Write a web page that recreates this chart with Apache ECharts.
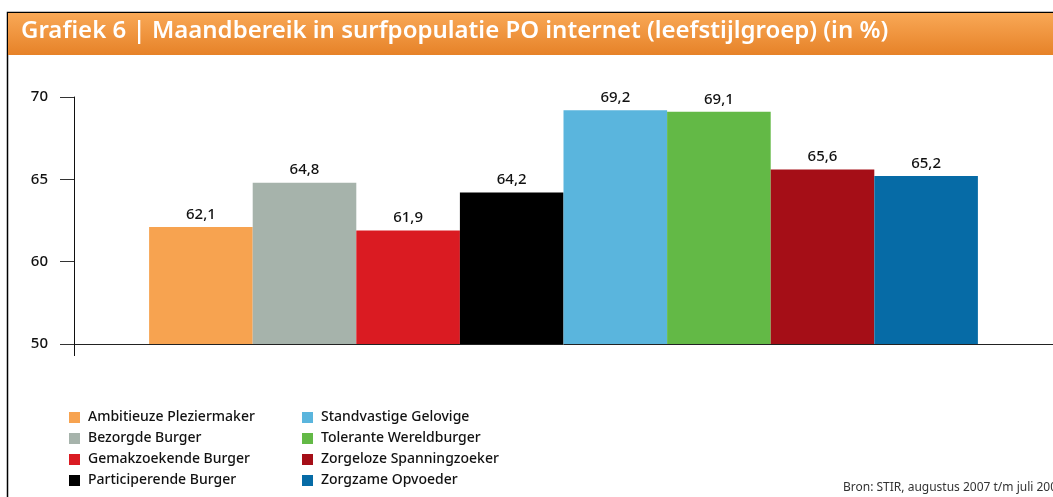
<!DOCTYPE html>
<html lang="nl">
<head>
    <meta charset="UTF-8">
    <title>Grafiek 6</title>
    <script src="https://cdn.jsdelivr.net/npm/echarts@6/dist/echarts.min.js"></script>
    <style>
        html, body { margin: 0; padding: 0; background: #fff; }
        #chart { width: 1053px; height: 497px; }
    </style>
</head>
<body>
    <div id="chart"></div>
    <script>
        // data
        var groups = ['Ambitieuze Pleziermaker', 'Bezorgde Burger', 'Gemakzoekende Burger', 'Participerende Burger',
            'Standvastige Gelovige', 'Tolerante Wereldburger', 'Zorgeloze Spanningzoeker', 'Zorgzame Opvoeder'];
        var values = [62.1, 64.8, 61.9, 64.2, 69.2, 69.1, 65.6, 65.2];
        var colors = ['#F7A350', '#A6B3AB', '#DA1B22', '#000000', '#5AB5DD', '#63B946', '#A50E17', '#066BA6'];
        // axis starts at 55 but the chart prints 50 there (broken axis)
        var yTicks = { 55: '50', 60: '60', 65: '65', 70: '70' };

        var chart = echarts.init(document.getElementById('chart'));
        var font = '"Noto Sans", sans-serif';

        var series = groups.map(function (g, i) {
            return {
                name: g,
                type: 'bar',
                barWidth: 103.6,
                barGap: '0%',
                itemStyle: { color: colors[i] },
                label: {
                    show: true,
                    position: 'top',
                    distance: 5,
                    color: '#111',
                    fontFamily: font,
                    fontSize: 15,
                    fontWeight: 500,
                    formatter: function (p) { return String(p.value).replace('.', ','); }
                },
                data: [values[i]]
            };
        });

        function legendBlock(names, left) {
            return {
                orient: 'vertical',
                left: left,
                top: 407,
                padding: 0,
                icon: 'rect',
                itemWidth: 11,
                itemHeight: 11,
                itemGap: 0,
                selectedMode: false,
                data: names,
                textStyle: {
                    color: '#111',
                    fontFamily: font,
                    fontSize: 14,
                    fontWeight: 500,
                    lineHeight: 21,
                    padding: [0, 0, 0, 3]
                }
            };
        }

        var option = {
            animation: false,
            backgroundColor: '#fff',
            graphic: [
                // frame
                { type: 'rect', shape: { x: 7.5, y: 12.5, width: 1100, height: 600 }, style: { fill: 'none', stroke: '#000', lineWidth: 1.5 }, z: 0 },
                // header band
                {
                    type: 'rect', shape: { x: 8, y: 13, width: 1045, height: 42 }, z: 1,
                    style: {
                        fill: new echarts.graphic.LinearGradient(0, 0, 0, 1, [
                            { offset: 0, color: '#F9A856' },
                            { offset: 1, color: '#E68228' }
                        ])
                    }
                },
                {
                    type: 'text', left: 21, top: 19, z: 2,
                    style: {
                        text: 'Grafiek 6 | Maandbereik in surfpopulatie PO internet (leefstijlgroep) (in %)',
                        fill: '#fff', font: '600 24px "Noto Sans", sans-serif'
                    }
                },
                {
                    type: 'text', left: 843, top: 482, z: 2,
                    style: {
                        text: 'Bron: STIR, augustus 2007 t/m juli 2008',
                        fill: '#333', font: '12px "Noto Sans", sans-serif'
                    }
                }
            ],
            grid: { left: 74, right: 0, top: 97, bottom: 153 },
            legend: [legendBlock(groups.slice(0, 4), 69), legendBlock(groups.slice(4), 302)],
            xAxis: {
                type: 'category',
                data: [''],
                axisLine: { lineStyle: { color: '#222', width: 1 } },
                axisTick: { show: true, length: 12, lineStyle: { color: '#111' } },
                axisLabel: { show: false }
            },
            yAxis: {
                type: 'value',
                min: 55,
                max: 70,
                interval: 5,
                splitLine: { show: false },
                axisLine: { show: true, lineStyle: { color: '#111', width: 1 } },
                axisTick: { show: true, length: 14, lineStyle: { color: '#333' } },
                axisLabel: {
                    margin: 26,
                    color: '#111',
                    fontFamily: font,
                    fontSize: 15,
                    fontWeight: 500,
                    formatter: function (v) { return yTicks[v] || ''; }
                }
            },
            series: series
        };
        chart.setOption(option);
    </script>
</body>
</html>
